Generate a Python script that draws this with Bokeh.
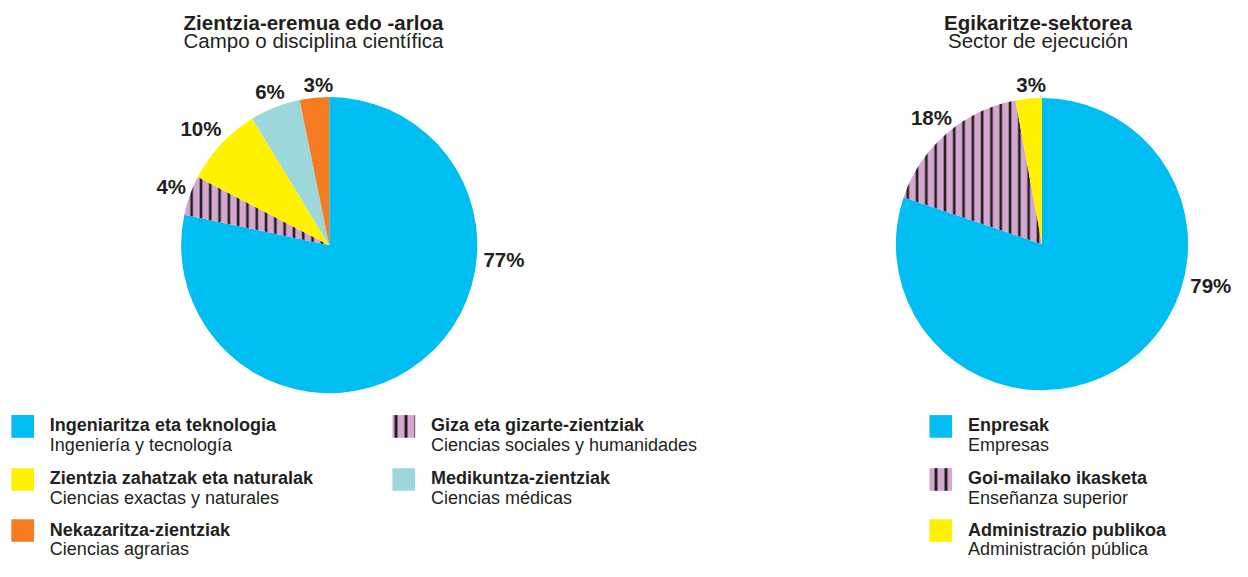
from bokeh.plotting import figure
from bokeh.models import Range1d
from bokeh.core.properties import value
from bokeh.embed import file_html
from bokeh.resources import INLINE
import math

# ---------------- data ----------------
field_title_eu = "Zientzia-eremua edo -arloa"
field_title_es = "Campo o disciplina científica"
# pie order, clockwise from 12 o'clock
field_eu = ["Ingeniaritza eta teknologia", "Giza eta gizarte-zientziak",
            "Zientzia zahatzak eta naturalak", "Medikuntza-zientziak",
            "Nekazaritza-zientziak"]
field_es = ["Ingeniería y tecnología", "Ciencias sociales y humanidades",
            "Ciencias exactas y naturales", "Ciencias médicas",
            "Ciencias agrarias"]
field_share = [78.3, 4.3, 8.7, 5.5, 3.2]          # drawn slice sizes
field_labels = ["77%", "4%", "10%", "6%", "3%"]   # printed values

sector_title_eu = "Egikaritze-sektorea"
sector_title_es = "Sector de ejecución"
sector_eu = ["Enpresak", "Goi-mailako ikasketa", "Administrazio publikoa"]
sector_es = ["Empresas", "Enseñanza superior", "Administración pública"]
sector_share = [80.2, 16.9, 2.9]
sector_labels = ["79%", "18%", "3%"]

# ---------------- styles / layout ----------------
BLUE = "#00BDF2"
YELLOW = "#FFF200"
ORANGE = "#F47B20"
LIGHTBLUE = "#9CD7DC"
PINK = "#D3A7CE"
INK = "#231F20"
FONT = value("Liberation Sans")

field_colors = [BLUE, PINK, YELLOW, LIGHTBLUE, ORANGE]
field_hatch = ["blank", "|", "blank", "blank", "blank"]
sector_colors = [BLUE, PINK, YELLOW]
sector_hatch = ["blank", "|", "blank"]

# design canvas (reference pixels) mapped onto a 1232x561 figure
DW, DH = 1248, 577
TOP_CUT = 6
W, H = 1232, 561
def X(xi):
    return xi
def Y(yi):
    return DH - yi

p = figure(width=W, height=H, output_backend="svg", toolbar_location=None,
           x_range=Range1d(0, DW), y_range=Range1d(0, DH - TOP_CUT),
           min_border=0, outline_line_color=None)
p.axis.visible = False
p.xgrid.visible = False
p.ygrid.visible = False
p.background_fill_color = "white"


def draw_pie(cx, cy, r, shares, colors, hatches):
    total = float(sum(shares))
    cum = 0.0
    starts, ends = [], []
    for s in shares:
        a0 = math.pi / 2 - 2 * math.pi * cum / total
        cum += s
        a1 = math.pi / 2 - 2 * math.pi * cum / total
        starts.append(a0)
        ends.append(a1)
    n = len(shares)
    p.wedge(x=[X(cx)] * n, y=[Y(cy)] * n, radius=r, start_angle=starts,
            end_angle=ends, direction="clock", fill_color=colors,
            line_color=None, hatch_pattern=hatches, hatch_color=INK,
            hatch_scale=9.3, hatch_weight=2.6)


def draw_text(xs, ys, texts, size, bold=False, align="left", baseline="alphabetic"):
    p.text(x=[X(v) for v in xs], y=[Y(v) for v in ys], text=texts,
           text_font=FONT, text_font_size=size,
           text_font_style="bold" if bold else "normal",
           text_color=INK, text_align=align, text_baseline=baseline)


# titles
draw_text([317], [28], [field_title_eu], "20.5px", bold=True, align="center")
draw_text([317], [46.5], [field_title_es], "20.5px", align="center")
draw_text([1051], [28], [sector_title_eu], "20.5px", bold=True, align="center")
draw_text([1051], [46.5], [sector_title_es], "20.5px", align="center")

# pies
draw_pie(333, 255, 150, field_share, field_colors, field_hatch)
draw_pie(1055, 254, 148, sector_share, sector_colors, sector_hatch)

# percentage labels (annotation positions)
field_label_pos = [(510, 270), (173, 195), (203, 136), (273, 99), (322, 92)]
sector_label_pos = [(1226, 296), (943, 125), (1044, 92)]
draw_text([q[0] for q in field_label_pos], [q[1] for q in field_label_pos],
          field_labels, "20.5px", bold=True, align="center", baseline="middle")
draw_text([q[0] for q in sector_label_pos], [q[1] for q in sector_label_pos],
          sector_labels, "20.5px", bold=True, align="center", baseline="middle")

# legends
SW = 23
rows_top = [428, 482, 534]
field_legend_slot = [(0, 0), (1, 0), (0, 1), (1, 1), (0, 2)]
field_cols = [11, 397]
sector_cols = [941]


def draw_legend(cols, slots, eu, es, colors, hatches):
    lx = [cols[c] for c, r in slots]
    ty = [rows_top[r] for c, r in slots]
    p.quad(left=[X(v) for v in lx], right=[X(v + SW) for v in lx],
           top=[Y(v) for v in ty], bottom=[Y(v + SW) for v in ty],
           fill_color=colors, line_color=None, hatch_pattern=hatches,
           hatch_color=INK, hatch_scale=10, hatch_weight=3)
    draw_text([v + 39 for v in lx], [v + 10.5 for v in ty], eu, "18px", bold=True)
    draw_text([v + 39 for v in lx], [v + 30.5 for v in ty], es, "18px")


draw_legend(field_cols, field_legend_slot, field_eu, field_es, field_colors, field_hatch)
draw_legend(sector_cols, [(0, 0), (0, 1), (0, 2)], sector_eu, sector_es,
            sector_colors, sector_hatch)

open("out.html", "w").write(file_html(p, INLINE))
